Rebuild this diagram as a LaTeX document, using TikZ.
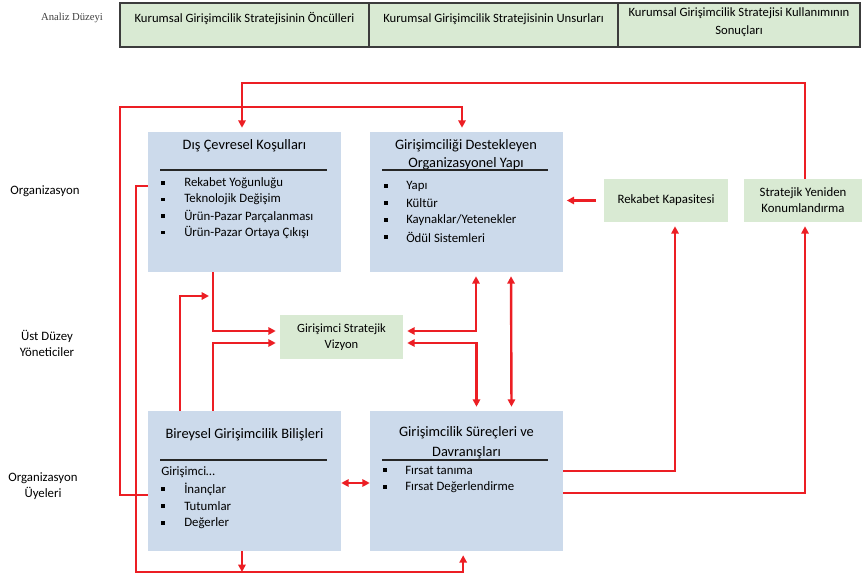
\documentclass[tikz,border=0pt]{standalone}
\usepackage{fontspec}
\setmainfont{Carlito}
\newfontfamily\analizfont{Liberation Serif}
\usetikzlibrary{arrows.meta, positioning, calc}
\definecolor{boxblue}{RGB}{204,218,235}
\definecolor{boxgreen}{RGB}{217,234,211}
\definecolor{linkred}{RGB}{236,30,36}
\definecolor{hdrgray}{RGB}{60,60,60}

\begin{document}
\begin{tikzpicture}[x=0.75pt, y=-0.75pt, font=\fontsize{9.6}{11}\selectfont, align=center,
    >={Triangle[length=5.5pt,width=5.5pt]},
    hdr/.style={draw=hdrgray, line width=1.4pt, fill=boxgreen},
    hdrtext/.style={font=\fontsize{9.5}{13.5}\selectfont},
    mainbox/.style={fill=boxblue, inner sep=0pt, minimum width=144.75pt, minimum height=105pt},
    greenbox/.style={fill=boxgreen, inner sep=0pt, minimum height=32.25pt},
    boxtitle/.style={font=\fontsize{10.8}{13.5}\selectfont},
    item/.style={anchor=west, inner sep=0pt},
    rule/.style={draw=black!85, line width=0.9pt},
    link/.style={draw=linkred, line width=1.8pt, ->, shorten >=3pt},
    both/.style={link, <->, shorten <=3pt}]
    \useasboundingbox (0,0) rectangle (862,577);
    \node[font=\analizfont\fontsize{8}{10}\selectfont, text=black!75] (analiz) at (72,18) {Analiz Düzeyi};
    \draw[hdr] (120,3) rectangle (369,47);
    \draw[hdr] (369,3) rectangle (618,47);
    \draw[hdr] (618,3) rectangle (860,47);
    \node[hdrtext] (h1) at (244.5,19) {Kurumsal Girişimcilik Stratejisinin Öncülleri};
    \node[hdrtext] (h2) at (493.5,19) {Kurumsal Girişimcilik Stratejisinin Unsurları};
    \node[hdrtext] (h3) at (739,22.5) {Kurumsal Girişimcilik Stratejisi Kullanımının\\Sonuçları};

    \node (lv1) at (45,191) {Organizasyon};
    \node[font=\fontsize{9.6}{12.5}\selectfont] (lv2) at (47,343.5) {Üst Düzey\\Yöneticiler};
    \node[font=\fontsize{9.6}{11.5}\selectfont] (lv3) at (43,486) {Organizasyon\\Üyeleri};

    \node[mainbox] (dis) at (244.5,202) {};
    \node[mainbox] (org) at (466,202) {};
    \node[mainbox] (bir) at (244.5,481) {};
    \node[mainbox] (sur) at (466.5,481) {};
    \node[greenbox, minimum width=93pt] (rek) at (666,200.5) {Rekabet Kapasitesi};
    \node[greenbox, minimum width=88.5pt, font=\fontsize{9.6}{12}\selectfont] (strat) at (803,200.5) {Stratejik Yeniden\\Konumlandırma};
    \node[greenbox, minimum width=92.25pt, minimum height=33pt, font=\fontsize{9.4}{12}\selectfont] (viz) at (341.5,337) {Girişimci Stratejik\\Vizyon};

    \node[boxtitle] (dis-t) at (244.5,146) {Dış Çevresel Koşulları};
    \draw[rule] (160,170) -- (327,170);
    \foreach \yy/\txt [count=\i] in {183/Rekabet Yoğunluğu, 199.5/Teknolojik Değişim, 216/Ürün-Pazar Parçalanması, 232.5/Ürün-Pazar Ortaya Çıkışı} {
        \fill (163,\yy) +(-1.8,-1.8) rectangle +(1.8,1.8);
        \node[item] (dis-\i) at (184,\yy) {\txt};
    }

    \node[boxtitle] (org-t) at (466,155) {Girişimciliği Destekleyen\\Organizasyonel Yapı};
    \draw[rule] (382,170) -- (548,170);
    \foreach \yy/\txt [count=\i] in {186/Yapı, 203/Kültür, 220/{Kaynaklar/Yetenekler}, 237/Ödül Sistemleri} {
        \fill (386,\yy) +(-1.8,-1.8) rectangle +(1.8,1.8);
        \node[item] (org-\i) at (406,\yy) {\txt};
    }

    \node[boxtitle] (bir-t) at (244.5,435) {Bireysel Girişimcilik Bilişleri};
    \draw[rule] (160,460) -- (327,460);
    \node[item] (bir-0) at (161,472) {Girişimci…};
    \foreach \yy/\txt [count=\i] in {489/İnançlar, 506/Tutumlar, 523/Değerler} {
        \fill (163,\yy) +(-1.8,-1.8) rectangle +(1.8,1.8);
        \node[item] (bir-\i) at (184,\yy) {\txt};
    }

    \node[boxtitle, font=\fontsize{10.8}{15}\selectfont] (sur-t) at (466.5,443) {Girişimcilik Süreçleri ve\\Davranışları};
    \draw[rule] (382,460) -- (548,460);
    \foreach \yy/\txt [count=\i] in {470/Fırsat tanıma, 487/Fırsat Değerlendirme} {
        \fill (385,\yy) +(-1.8,-1.8) rectangle +(1.8,1.8);
        \node[item] (sur-\i) at (405,\yy) {\txt};
    }

    \coordinate (topA) at (242,83);
    \coordinate (lA) at (120,107);
    \coordinate (lB) at (136,572);
    \coordinate (jA) at (209,296);
    \draw[link] ([xshift=1.5pt]strat.north) |- (topA) -- (topA |- dis.north);
    \draw[link] ([yshift=-10.5pt]bir.west) -| (lA) -| ([xshift=-3pt]org.north);
    \draw[link] ([yshift=12pt]dis.west) -| (lB) -| ([xshift=-2.5pt]sur.north |- sur.south);
    \draw[link, shorten >=0pt] ([xshift=-1.9pt]bir.south) -- ([xshift=-1.9pt]bir.south |- lB);
    \draw[link] ([xshift=-23.6pt]dis.south) |- ([yshift=4.5pt]viz.west);
    \draw[link] ([xshift=-23.6pt]bir.north) |- ([yshift=-4.5pt]viz.west);
    \draw[link, shorten >=0pt] ([xshift=-48.4pt]bir.north) |- (jA);
    \draw[both] ([xshift=7.5pt]org.south) |- ([yshift=4.5pt]viz.east);
    \draw[both] ([yshift=-4.5pt]viz.east) -| ([xshift=7.5pt]sur.north);
    \draw[both] ([xshift=33.75pt]org.south) -- ([xshift=33.75pt]sur.north);
    \draw[both, shorten <=0pt, shorten >=0pt] ([yshift=-1.5pt]bir.east) -- ([yshift=-1.5pt]sur.west);
    \draw[link] ([yshift=7.5pt]sur.east) -| ([xshift=6.75pt]rek.south);
    \draw[link] ([yshift=-9pt]sur.east) -| ([xshift=1.5pt]strat.south);
    \draw[link, shorten <=6pt] (rek.west) -- (rek.west -| org.east);
\end{tikzpicture}
\end{document}
